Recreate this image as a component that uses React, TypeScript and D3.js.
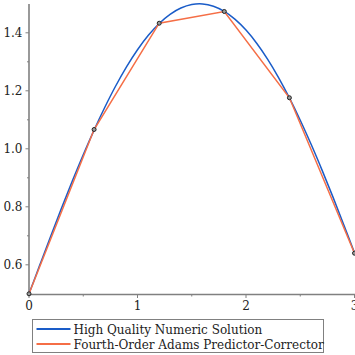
import React from "react";
import * as d3 from "d3";

const exactT = [0, 0.1, 0.2, 0.3, 0.4, 0.5, 0.6, 0.7, 0.8, 0.9, 1.0, 1.1, 1.2, 1.3, 1.4, 1.5, 1.6, 1.7, 1.8, 1.9, 2.0, 2.1, 2.2, 2.3, 2.4, 2.5, 2.6, 2.7, 2.8, 2.9, 3.0];
const exactY = [0.5, 0.5998, 0.6987, 0.7955, 0.8894, 0.9794, 1.0646, 1.1442, 1.2174, 1.2833, 1.3415, 1.3912, 1.432, 1.4636, 1.4854, 1.4975, 1.4996, 1.4917, 1.4738, 1.4463, 1.4093, 1.3632, 1.3085, 1.2458, 1.1755, 1.0985, 1.0155, 0.9274, 0.835, 0.7392, 0.6411];

const adamsT = [0, 0.6, 1.2, 1.8, 2.4, 3.0];
const adamsY = [0.5, 1.0666, 1.433, 1.4735, 1.176, 0.64];

const xTicks = [0, 1, 2, 3];
const xMinor = [0.5, 1.5, 2.5];
const yTicks = [0.6, 0.8, 1.0, 1.2, 1.4];
const yMinor = [0.7, 0.9, 1.1, 1.3];

const seriesNames = ["High Quality Numeric Solution", "Fourth-Order Adams Predictor-Corrector"];
const colors = ["#1a5cc8", "#f56e46"];

export default function App() {
  const x = d3.scaleLinear().domain([0, 3]).range([29, 354.5]);
  const y = d3.scaleLinear().domain([0.5, 1.5]).range([293.8, 3.8]);
  const axisColor = "#808080";
  const font = "DejaVu Serif";

  const exactLine = d3
    .line<number>()
    .x((_, i) => x(exactT[i]))
    .y((d) => y(d))
    .curve(d3.curveCatmullRom.alpha(0.5));
  const adamsLine = d3
    .line<number>()
    .x((_, i) => x(adamsT[i]))
    .y((d) => y(d));

  const axisY = 294.5;
  const axisX = 29;

  return (
    <svg width={355} height={355} style={{ position: "absolute", left: 0, top: 0 }}>
      <rect width={355} height={355} fill="#fff" />
      {/* axes */}
      <line x1={axisX} x2={355} y1={axisY} y2={axisY} stroke={axisColor} strokeWidth={1.6} />
      <line x1={axisX} x2={axisX} y1={4} y2={axisY} stroke={axisColor} strokeWidth={1.6} />
      {xTicks.map((t) => (
        <g key={"xt" + t}>
          <line x1={x(t)} x2={x(t)} y1={axisY} y2={axisY + 3.5} stroke={axisColor} strokeWidth={1} />
          <text x={x(t)} y={310} fontFamily={font} fontSize={12} textAnchor="middle" fill="#222">
            {t}
          </text>
        </g>
      ))}
      {xMinor.map((t) => (
        <line key={"xm" + t} x1={x(t)} x2={x(t)} y1={axisY} y2={axisY + 2} stroke={axisColor} strokeWidth={1} />
      ))}
      {yTicks.map((t) => (
        <g key={"yt" + t}>
          <line x1={axisX - 3.5} x2={axisX} y1={y(t)} y2={y(t)} stroke={axisColor} strokeWidth={1} />
          <text x={22.5} y={y(t) + 4.3} fontFamily={font} fontSize={12} textAnchor="end" fill="#222">
            {t.toFixed(1)}
          </text>
        </g>
      ))}
      {yMinor.map((t) => (
        <line key={"ym" + t} x1={axisX - 2} x2={axisX} y1={y(t)} y2={y(t)} stroke={axisColor} strokeWidth={1} />
      ))}
      {/* curves */}
      <path d={exactLine(exactY) || ""} fill="none" stroke={colors[0]} strokeWidth={1.5} />
      <path d={adamsLine(adamsY) || ""} fill="none" stroke={colors[1]} strokeWidth={1.5} />
      {adamsY.map((v, i) => (
        <circle key={"p" + i} cx={x(adamsT[i])} cy={y(v)} r={2} fill="#999" stroke="#222" strokeWidth={1} />
      ))}
      {/* legend */}
      <rect x={32.5} y={319.5} width={291} height={33} fill="#fff" stroke={axisColor} strokeWidth={1} />
      {seriesNames.map((name, i) => (
        <g key={name}>
          <line x1={36.5} x2={70.5} y1={329 + i * 15} y2={329 + i * 15} stroke={colors[i]} strokeWidth={2} />
          <text x={73.5} y={333.5 + i * 15} fontFamily={font} fontSize={12} fill="#222">
            {name}
          </text>
        </g>
      ))}
    </svg>
  );
}
